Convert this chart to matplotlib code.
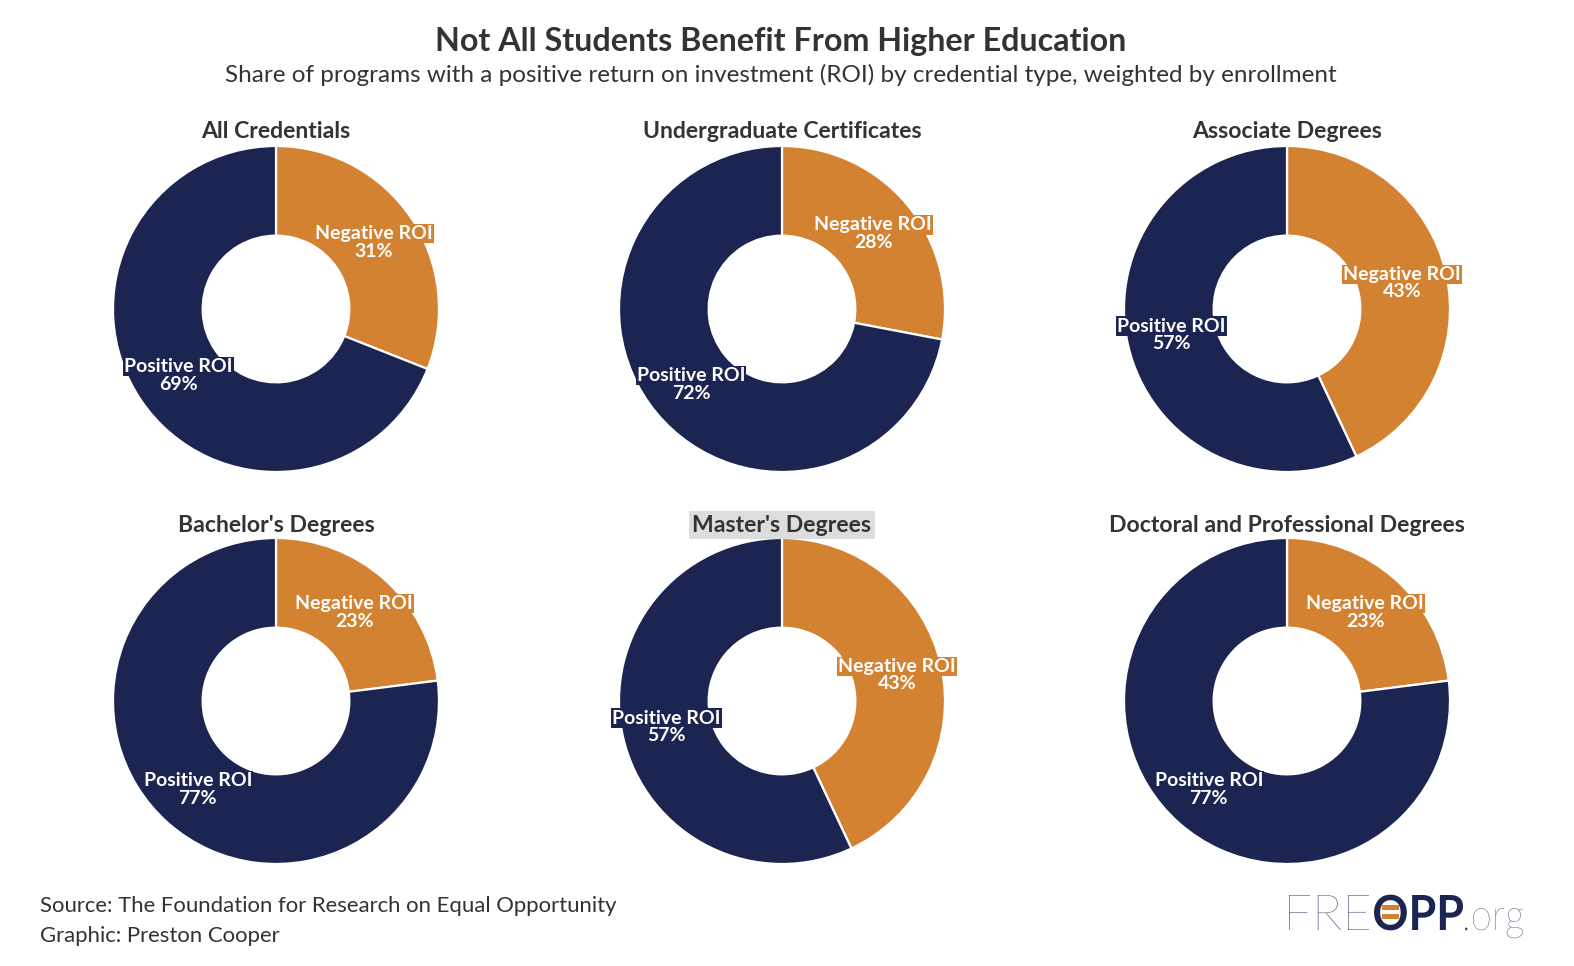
import matplotlib
matplotlib.use("Agg")
import matplotlib.pyplot as plt
from matplotlib.patches import Rectangle, PathPatch
from matplotlib.textpath import TextPath
from matplotlib.font_manager import FontProperties
from matplotlib.transforms import Affine2D

plt.rcParams['font.family'] = ['Lato', 'DejaVu Sans']

titles = ["All Credentials", "Undergraduate Certificates", "Associate Degrees",
          "Bachelor's Degrees", "Master's Degrees", "Doctoral and Professional Degrees"]
negative = [31, 28, 43, 23, 43, 23]
positive = [69, 72, 57, 77, 57, 77]
slice_labels = ["Negative ROI", "Positive ROI"]

NAVY = "#1c2551"
ORANGE = "#d38231"
TEXT = "#333333"

W, H = 1574, 966
fig = plt.figure(figsize=(W / 100, H / 100), dpi=100)
fig.patch.set_facecolor("white")


def fx(x):
    return x / W


def fy(y):
    return 1 - y / H


centers_x = [276, 782, 1287]
centers_y = [309, 701]
R = 163

fig.text(fx(781), fy(42), "Not All Students Benefit From Higher Education",
         ha="center", va="center", fontsize=23.2, fontweight="bold", color=TEXT)
fig.text(fx(781), fy(75), "Share of programs with a positive return on investment (ROI) by credential type, weighted by enrollment",
         ha="center", va="center", fontsize=17.5, color=TEXT)

for i, title in enumerate(titles):
    cx = centers_x[i % 3]
    cy = centers_y[i // 3]
    ax = fig.add_axes([fx(cx - R), fy(cy + R), 2 * R / W, 2 * R / H])
    vals = [negative[i], positive[i]]
    wedges, _, autotexts = ax.pie(
        vals, colors=[ORANGE, NAVY], startangle=90, counterclock=False, radius=1,
        wedgeprops=dict(width=0.55, edgecolor="white", linewidth=1.6),
        autopct=lambda p: "", pctdistance=0.725)
    for w, t, lab, v, c in zip(wedges, autotexts, slice_labels, vals, [ORANGE, NAVY]):
        x, y = t.get_position()
        t.set_text("")
        ax.annotate(lab, (x, y), xytext=(0, 6.3), textcoords="offset points",
                    ha="center", va="center", color="white", fontweight="bold",
                    fontsize=14,
                    bbox=dict(boxstyle="square,pad=0.06", facecolor=c, edgecolor="none"))
        ax.annotate(f"{v}%", (x, y), xytext=(0, -6.3), textcoords="offset points",
                    ha="center", va="center", color="white", fontweight="bold",
                    fontsize=14)
    ax.set_xlim(-1, 1)
    ax.set_ylim(-1, 1)
    ax.set_aspect("equal")
    ax.axis("off")
    ty = 131 if i < 3 else 525
    kw = {}
    if title == "Master's Degrees":
        kw["bbox"] = dict(boxstyle="square,pad=0.15", facecolor="#dddddd", edgecolor="none")
    fig.text(fx(cx), fy(ty), title, ha="center", va="center", fontsize=16.6,
             fontweight="bold", color=TEXT, **kw)

fig.text(fx(40), fy(906), "Source: The Foundation for Research on Equal Opportunity",
         ha="left", va="center", fontsize=15.9, color=TEXT)
fig.text(fx(40), fy(936), "Graphic: Preston Cooper",
         ha="left", va="center", fontsize=15.9, color=TEXT)

# logo, drawn in a pixel-coordinate overlay
ov = fig.add_axes([0, 0, 1, 1], zorder=-1)
ov.set_xlim(0, W)
ov.set_ylim(H, 0)
ov.axis("off")


def fit_text(s, x0, x1, ytop, ybase, weight, color, ref="H"):
    fp = FontProperties(family="Lato", weight=weight)
    tp = TextPath((0, 0), s, size=100, prop=fp)
    rp = TextPath((0, 0), ref, size=100, prop=fp)
    ext = tp.get_extents()
    rext = rp.get_extents()
    sx = (x1 - x0) / ext.width
    sy = (ybase - ytop) / rext.height
    tr = Affine2D().translate(-ext.x0, 0).scale(sx, -sy).translate(x0, ybase)
    ov.add_patch(PathPatch(tr.transform_path(tp), facecolor=color, edgecolor="none"))


LOGO_LIGHT = "#3c4670"
fit_text("FRE", 1289, 1369, 895, 930, "light", LOGO_LIGHT)
fit_text("OPP", 1374, 1463, 895, 930, "bold", NAVY)
fit_text(".org", 1465, 1523, 908, 930, "light", LOGO_LIGHT, ref="o")
ov.add_patch(Rectangle((1382, 905), 17, 5, facecolor=ORANGE, edgecolor="none"))
ov.add_patch(Rectangle((1382, 914), 17, 5, facecolor=ORANGE, edgecolor="none"))

fig.savefig("out.png", dpi=100, facecolor="white")
